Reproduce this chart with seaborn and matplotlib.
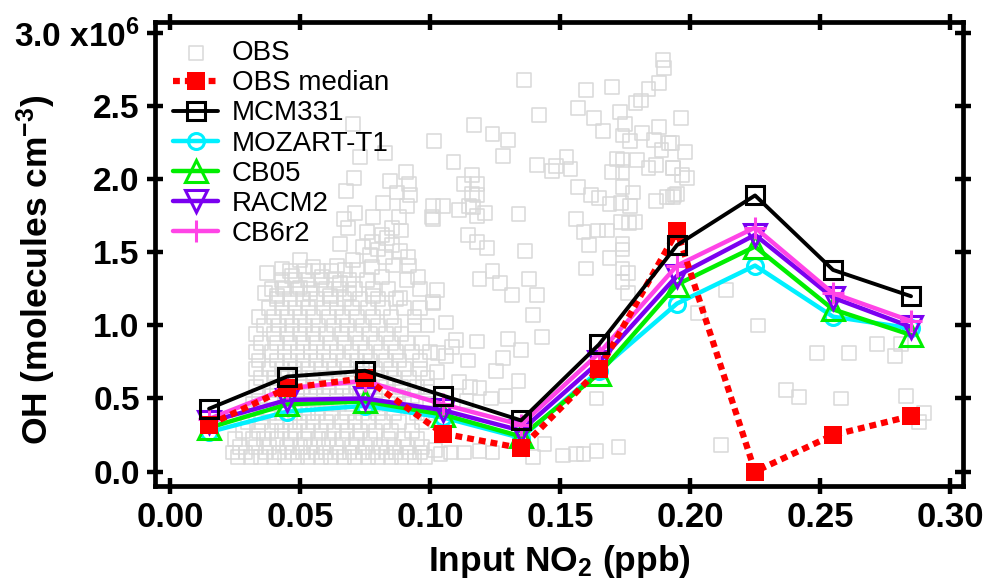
import pandas as pd
import matplotlib.pyplot as plt
import seaborn as sns

# modelled / observed OH (in 1e6 molecules cm-3) per NO2 bin
no2_bins = [0.015, 0.045, 0.075, 0.105, 0.135, 0.165, 0.195, 0.225, 0.255, 0.285]
obs_median = [0.32, 0.57, 0.64, 0.26, 0.16, 0.70, 1.645, 0.00, 0.25, 0.38]
mcm331 = [0.43, 0.65, 0.69, 0.52, 0.35, 0.87, 1.55, 1.89, 1.38, 1.20]
mozart_t1 = [0.27, 0.41, 0.45, 0.37, 0.23, 0.69, 1.15, 1.41, 1.06, 0.98]
cb05 = [0.30, 0.46, 0.48, 0.39, 0.24, 0.67, 1.28, 1.54, 1.11, 0.935]
racm2 = [0.34, 0.49, 0.50, 0.42, 0.28, 0.75, 1.34, 1.62, 1.19, 0.99]
cb6r2 = [0.36, 0.57, 0.62, 0.46, 0.32, 0.81, 1.41, 1.67, 1.22, 1.03]

# OBS scatter, dense part read row by row (y level, x values)
obs_rows = [
    (0.10, [0.026, 0.031, 0.035, 0.040, 0.044, 0.049, 0.053, 0.058, 0.062, 0.067, 0.071, 0.076, 0.080, 0.085, 0.089, 0.094, 0.098]),
    (0.13, [0.024, 0.029, 0.037, 0.042, 0.047, 0.051, 0.056, 0.060, 0.065, 0.069, 0.074, 0.078, 0.083, 0.087, 0.092, 0.096]),
    (0.17, [0.027, 0.033, 0.038, 0.045, 0.050, 0.054, 0.059, 0.064, 0.070, 0.075, 0.081, 0.086, 0.091, 0.097]),
    (0.22, [0.025, 0.032, 0.036, 0.041, 0.046, 0.052, 0.057, 0.061, 0.066, 0.072, 0.077, 0.084, 0.090, 0.095]),
    (0.28, [0.028, 0.034, 0.039, 0.043, 0.048, 0.053, 0.058, 0.063, 0.068, 0.073, 0.079, 0.085, 0.093]),
    (0.34, [0.030, 0.035, 0.041, 0.046, 0.050, 0.055, 0.060, 0.066, 0.071, 0.076, 0.082, 0.088, 0.097]),
    (0.40, [0.033, 0.038, 0.043, 0.048, 0.053, 0.057, 0.062, 0.068, 0.074, 0.080, 0.086, 0.095, 0.099]),
    (0.46, [0.032, 0.040, 0.045, 0.050, 0.055, 0.060, 0.065, 0.070, 0.078, 0.084, 0.090, 0.100]),
    (0.52, [0.034, 0.039, 0.044, 0.049, 0.054, 0.059, 0.064, 0.069, 0.073, 0.079, 0.087, 0.093]),
    (0.58, [0.033, 0.041, 0.046, 0.051, 0.056, 0.061, 0.066, 0.072, 0.077, 0.083, 0.089, 0.095, 0.099]),
    (0.64, [0.035, 0.040, 0.045, 0.050, 0.055, 0.060, 0.065, 0.070, 0.075, 0.081, 0.086, 0.092, 0.099]),
    (0.70, [0.033, 0.038, 0.043, 0.048, 0.053, 0.058, 0.063, 0.068, 0.074, 0.079, 0.085, 0.090, 0.096]),
    (0.76, [0.034, 0.041, 0.046, 0.051, 0.056, 0.061, 0.067, 0.072, 0.077, 0.083, 0.088, 0.096]),
    (0.82, [0.033, 0.039, 0.044, 0.049, 0.054, 0.059, 0.064, 0.070, 0.075, 0.081, 0.087, 0.093, 0.100]),
    (0.88, [0.035, 0.041, 0.046, 0.051, 0.056, 0.062, 0.067, 0.073, 0.079, 0.085, 0.091, 0.097]),
    (0.94, [0.033, 0.040, 0.045, 0.050, 0.055, 0.060, 0.066, 0.071, 0.077, 0.083, 0.089]),
    (1.00, [0.036, 0.042, 0.047, 0.052, 0.057, 0.063, 0.068, 0.074, 0.080, 0.086, 0.094, 0.099]),
    (1.06, [0.034, 0.040, 0.045, 0.050, 0.055, 0.061, 0.066, 0.072, 0.078, 0.085, 0.094]),
    (1.12, [0.038, 0.043, 0.048, 0.053, 0.059, 0.064, 0.070, 0.076, 0.082, 0.090, 0.096]),
    (1.18, [0.041, 0.046, 0.051, 0.056, 0.062, 0.067, 0.073, 0.080, 0.087]),
    (1.25, [0.039, 0.044, 0.049, 0.054, 0.060, 0.065, 0.071, 0.078, 0.084, 0.096]),
    (1.31, [0.043, 0.048, 0.053, 0.058, 0.063, 0.069, 0.091]),
    (1.37, [0.046, 0.052, 0.057, 0.062]),
]

# OBS scatter, sparse points (x, y)
obs_sparse = [
    (0.0365, 1.22), (0.041, 1.20), (0.0435, 1.26), (0.050, 1.26), (0.0538, 1.22), (0.0615, 1.20),
    (0.069, 1.22), (0.078, 1.20), (0.0885, 1.19), (0.101, 1.16), (0.0373, 1.36), (0.043, 1.39),
    (0.0468, 1.34), (0.050, 1.45), (0.055, 1.40), (0.0583, 1.33), (0.0654, 1.29), (0.0756, 1.31),
    (0.0815, 1.33), (0.0954, 1.33), (0.0642, 1.41), (0.0673, 1.38), (0.0719, 1.38), (0.0777, 1.40),
    (0.0858, 1.41), (0.092, 1.41), (0.0704, 1.45), (0.077, 1.48), (0.0827, 1.47), (0.0915, 1.47),
    (0.080, 1.52), (0.0885, 1.51), (0.0742, 1.54), (0.0854, 1.55), (0.0654, 1.56), (0.0777, 1.57),
    (0.0835, 1.60), (0.0815, 1.62), (0.0756, 1.64), (0.0888, 1.65), (0.0854, 1.67), (0.0685, 1.67),
    (0.067, 1.73), (0.078, 1.74), (0.088, 1.74), (0.1008, 1.74), (0.0712, 1.77), (0.0819, 1.84),
    (0.0912, 1.82), (0.101, 1.82), (0.0677, 1.92), (0.0873, 1.91), (0.0923, 1.89), (0.0846, 1.99),
    (0.092, 1.97), (0.0708, 2.01), (0.0908, 2.05), (0.073, 2.15), (0.0827, 2.18), (0.0704, 2.38),
    (0.1015, 2.26),
    (0.136, 2.68), (0.160, 2.61), (0.170, 2.63), (0.190, 2.76), (0.1895, 2.82), (0.188, 2.66),
    (0.184, 2.62), (0.181, 2.54), (0.179, 2.52), (0.157, 2.49), (0.173, 2.46), (0.142, 2.44),
    (0.163, 2.42), (0.175, 2.38), (0.117, 2.37), (0.1665, 2.33), (0.124, 2.31), (0.130, 2.27),
    (0.174, 2.30), (0.177, 2.26), (0.1815, 2.32), (0.188, 2.36), (0.186, 2.27), (0.192, 2.25),
    (0.189, 2.20), (0.128, 2.16), (0.109, 2.12), (0.141, 2.10), (0.1525, 2.15), (0.1485, 2.09),
    (0.147, 2.06), (0.154, 2.07), (0.172, 2.14), (0.174, 2.13), (0.1795, 2.13), (0.170, 2.05),
    (0.174, 2.05), (0.184, 2.08), (0.187, 2.10), (0.1935, 2.08), (0.116, 2.03), (0.113, 1.97),
    (0.118, 1.97), (0.116, 1.90), (0.118, 1.89), (0.157, 1.95), (0.162, 1.89), (0.165, 1.87),
    (0.169, 1.83), (0.174, 1.95), (0.178, 1.91), (0.1735, 1.84), (0.177, 1.82), (0.187, 1.85),
    (0.191, 1.88), (0.194, 1.89), (0.105, 1.82), (0.111, 1.79), (0.101, 1.73), (0.115, 1.82),
    (0.1165, 1.81), (0.118, 1.75), (0.121, 1.77), (0.134, 1.76), (0.156, 1.73), (0.159, 1.64),
    (0.1645, 1.65), (0.168, 1.65), (0.1735, 1.71), (0.1765, 1.70), (0.179, 1.71), (0.1145, 1.62),
    (0.118, 1.57), (0.122, 1.53), (0.1365, 1.51), (0.161, 1.55), (0.174, 1.56), (0.174, 1.52),
    (0.169, 1.46), (0.160, 1.39), (0.174, 1.39), (0.176, 1.36), (0.174, 1.30), (0.119, 1.32),
    (0.124, 1.37), (0.127, 1.29), (0.138, 1.32), (0.1315, 1.21), (0.141, 1.21), (0.1025, 1.24),
    (0.101, 1.15), (0.176, 1.22),
    (0.1965, 2.42), (0.198, 2.19), (0.193, 2.25), (0.1935, 2.08), (0.197, 2.03), (0.199, 2.01),
    (0.195, 1.90), (0.1935, 1.88), (0.214, 1.24),
    (0.1395, 1.07), (0.106, 1.02), (0.143, 0.92), (0.118, 0.89), (0.130, 0.91), (0.110, 0.90),
    (0.1085, 0.85), (0.135, 0.83), (0.103, 0.81), (0.106, 0.79), (0.1145, 0.76), (0.128, 0.78),
    (0.1255, 0.69), (0.1025, 0.68), (0.134, 0.62), (0.111, 0.61), (0.1155, 0.58), (0.119, 0.57),
    (0.129, 0.52), (0.1235, 0.50), (0.164, 0.50), (0.114, 0.48), (0.144, 0.19), (0.1725, 0.17),
    (0.164, 0.14), (0.159, 0.12), (0.156, 0.12), (0.151, 0.11), (0.1395, 0.10), (0.124, 0.13),
    (0.119, 0.14), (0.113, 0.13), (0.108, 0.13), (0.104, 0.12), (0.102, 0.15),
    (0.203, 1.085), (0.226, 1.00), (0.249, 0.81), (0.261, 0.81), (0.272, 0.87), (0.279, 0.79),
    (0.281, 0.87), (0.237, 0.56), (0.242, 0.51), (0.258, 0.50), (0.283, 0.52), (0.290, 0.40),
    (0.288, 0.34), (0.212, 0.18),
]

obs_x = [x for y, xs in obs_rows for x in xs] + [p[0] for p in obs_sparse]
obs_y = [y for y, xs in obs_rows for x in xs] + [p[1] for p in obs_sparse]
obs = pd.DataFrame({'no2': obs_x, 'oh': obs_y})

sns.set_style('ticks')
plt.rcParams['font.family'] = ['Liberation Sans', 'DejaVu Sans']
plt.rcParams['mathtext.default'] = 'regular'
for k in ['text.color', 'axes.labelcolor', 'xtick.color', 'ytick.color', 'axes.edgecolor']:
    plt.rcParams[k] = 'black'

fig = plt.figure(figsize=(9.86, 5.84), dpi=100)
ax = fig.add_axes([0.1572, 0.1678, 0.8195, 0.7945])

sc = sns.scatterplot(data=obs, x='no2', y='oh', marker='s', s=100, facecolor='none',
                     edgecolor='#d9d9d9', linewidth=1.1, ax=ax, label='OBS', zorder=1)

models = [
    ('MOZART-T1', mozart_t1, '#00f0ff', 'o', 11.5),
    ('CB05', cb05, '#00ee00', '^', 16),
    ('RACM2', racm2, '#7a00f0', 'v', 16),
    ('CB6r2', cb6r2, '#ff44e6', '+', 16),
]
handles = {}
for name, vals, col, mk, ms in models:
    sns.lineplot(x=no2_bins, y=vals, color=col, lw=3.2, marker=mk, ms=ms, mfc='none',
                 mec=col, mew=2.2, ax=ax, label=name, zorder=3)
    handles[name] = ax.lines[-1]

sns.lineplot(x=no2_bins, y=obs_median, color='#ff0000', lw=4.5, linestyle=(0, (1.1, 0.8)),
             marker='s', ms=13, mfc='#ff0000', mec='#ff0000', mew=0, ax=ax,
             label='OBS median', zorder=4)
handles['OBS median'] = ax.lines[-1]

sns.lineplot(x=no2_bins, y=mcm331, color='black', lw=2.8, marker='s', ms=13.5, mfc='none',
             mec='black', mew=2.2, ax=ax, label='MCM331', zorder=5)
handles['MCM331'] = ax.lines[-1]

ax.set_xlim(-0.0058, 0.305)
ax.set_ylim(-0.099, 3.077)
ax.set_xticks([0.00, 0.05, 0.10, 0.15, 0.20, 0.25, 0.30])
ax.set_xticklabels(['0.00', '0.05', '0.10', '0.15', '0.20', '0.25', '0.30'])
ax.set_yticks([0.0, 0.5, 1.0, 1.5, 2.0, 2.5, 3.0])
ax.set_yticklabels(['0.0', '0.5', '1.0', '1.5', '2.0', '2.5', '3.0 x10$^{6}$'])

for s in ax.spines.values():
    s.set_visible(True)
    s.set_linewidth(3.4)
ax.tick_params(direction='inout', length=12, width=3.2, top=True, right=True, pad=5)
ax.tick_params(axis='x', labelsize=25)
ax.tick_params(axis='y', labelsize=24)
for lab in ax.get_xticklabels() + ax.get_yticklabels():
    lab.set_fontweight('bold')

ax.set_xlabel('Input NO$_2$ (ppb)', fontsize=25.5, fontweight='bold', labelpad=6)
ax.set_ylabel('OH (molecules cm$^{-3}$)', fontsize=25.5, fontweight='bold')
ax.yaxis.set_label_coords(-0.12, 0.466)

order = ['OBS', 'OBS median', 'MCM331', 'MOZART-T1', 'CB05', 'RACM2', 'CB6r2']
hl = [sc.collections[0]] + [handles[k] for k in order[1:]]
ax.legend(hl, order, loc='upper left', bbox_to_anchor=(0.009, 0.985), frameon=False,
          fontsize=20, handlelength=1.6, handletextpad=0.5, labelspacing=0.15,
          borderaxespad=0)

fig.savefig('out.png', dpi=100)
